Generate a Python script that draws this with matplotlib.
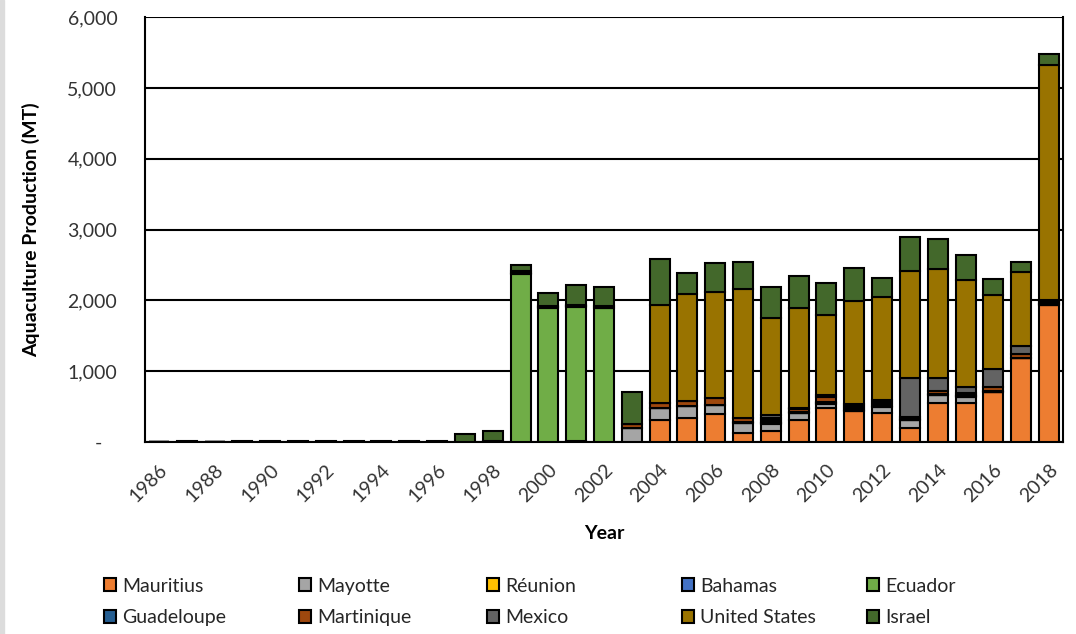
import numpy as np
import matplotlib
matplotlib.use('Agg')
import matplotlib.pyplot as plt
from matplotlib.ticker import FuncFormatter
from matplotlib.patches import Rectangle

plt.rcParams['font.family'] = ['Lato', 'DejaVu Sans']

years = list(range(1986, 2019))

# values, MT per year 1986..2018
mauritius = [0, 0, 0, 0, 0, 0, 0, 0, 0, 0, 0, 0, 0,
             0, 0, 15, 0, 0, 315, 344, 390, 130, 160, 305, 476, 442, 405,
             200, 545, 555, 710, 1180, 1935]
mayotte = [0, 0, 0, 0, 0, 0, 0, 0, 0, 0, 0, 0, 0,
           0, 0, 0, 0, 200, 165, 164, 130, 135, 100, 100, 55, 0, 93,
           110, 120, 85, 0, 0, 0]
reunion = [0, 0, 0, 0, 0, 0, 0, 0, 0, 0, 0, 0, 0,
           0, 0, 0, 0, 0, 0, 0, 0, 0, 10, 0, 25, 0, 0,
           0, 0, 0, 0, 0, 0]
bahamas = [0, 0, 0, 0, 0, 0, 0, 0, 0, 0, 0, 0, 0,
           0, 0, 0, 0, 0, 0, 0, 0, 0, 10, 0, 0, 10, 10,
           0, 0, 10, 0, 0, 10]
ecuador = [0, 0, 0, 0, 0, 0, 0, 0, 0, 0, 0, 0, 10,
           2370, 1890, 1885, 1890, 0, 0, 0, 0, 0, 0, 0, 0, 0, 0,
           0, 0, 0, 0, 0, 0]
guadeloupe = [0, 0, 0, 0, 0, 0, 0, 0, 0, 0, 0, 0, 0,
              20, 15, 15, 0, 0, 0, 0, 0, 15, 30, 15, 10, 25, 25,
              20, 15, 20, 15, 10, 20]
martinique = [0, 0, 0, 0, 0, 0, 0, 0, 0, 0, 0, 0, 0,
              20, 15, 15, 30, 50, 70, 71, 95, 55, 30, 40, 70, 30, 30,
              20, 40, 25, 50, 50, 20]
mexico = [0, 0, 0, 0, 0, 0, 0, 0, 0, 0, 0, 0, 0,
          0, 0, 0, 0, 0, 0, 0, 0, 0, 40, 15, 28, 25, 25,
          555, 180, 85, 258, 110, 20]
united_states = [0, 0, 0, 0, 0, 0, 0, 0, 0, 0, 0, 0, 0,
                 0, 0, 0, 0, 0, 1384, 1511, 1507, 1826, 1375, 1417, 1129, 1459, 1460,
                 1503, 1550, 1502, 1050, 1045, 3318]
israel = [0, 10, 0, 12, 12, 12, 12, 12, 12, 12, 12, 113, 140,
          90, 190, 290, 264, 460, 645, 301, 401, 377, 429, 457, 457, 471, 268,
          481, 410, 353, 212, 145, 155]

series = [
    ('Mauritius', mauritius, '#ED7D31'),
    ('Mayotte', mayotte, '#A5A5A5'),
    ('Réunion', reunion, '#FFC000'),
    ('Bahamas', bahamas, '#4472C4'),
    ('Ecuador', ecuador, '#70AD47'),
    ('Guadeloupe', guadeloupe, '#255E91'),
    ('Martinique', martinique, '#9E480E'),
    ('Mexico', mexico, '#636363'),
    ('United States', united_states, '#997300'),
    ('Israel', israel, '#43682B'),
]

fig = plt.figure(figsize=(10.76, 6.34), dpi=100)
fig.patches.append(Rectangle((0, 0), 0.004, 1, transform=fig.transFigure,
                             color='#dcdcdc', zorder=0))
ax = fig.add_axes([0.1348, 0.3028, 0.853, 0.6702])

x = np.arange(len(years))
bottom = np.zeros(len(years))
handles = {}
for name, vals, col in series:
    vals = np.array(vals, dtype=float)
    b = ax.bar(x, vals, bottom=bottom, width=0.72, color=col,
               edgecolor='black', linewidth=1.5, label=name, zorder=3)
    handles[name] = b
    bottom += vals

ax.set_xlim(-0.5, len(years) - 0.5)
ax.set_ylim(0, 6000)
ax.set_yticks(range(0, 6001, 1000))
ax.yaxis.set_major_formatter(FuncFormatter(lambda v, p: '-   ' if v == 0 else f'{int(v):,}'))
ax.grid(axis='y', color='black', linewidth=1.5, zorder=0)
ax.set_xticks(x[::2])
ax.set_xticklabels([str(y) for y in years[::2]], rotation=45, ha='right',
                   rotation_mode='anchor')
ax.tick_params(axis='both', length=0, labelsize=14, colors='#333333')
ax.tick_params(axis='y', pad=20)
ax.tick_params(axis='x', pad=14)

for s in ['left', 'bottom', 'right']:
    ax.spines[s].set_linewidth(1.5)
    ax.spines[s].set_color('black')
ax.spines['top'].set_visible(False)

ax.set_ylabel('Aquaculture Production (MT)', fontsize=14, fontweight='bold', labelpad=20)
ax.set_xlabel('Year', fontsize=14, fontweight='bold', labelpad=14)

# legend laid out in five columns of two rows, like the original
columns = [['Mauritius', 'Guadeloupe'], ['Mayotte', 'Martinique'],
           ['Réunion', 'Mexico'], ['Bahamas', 'United States'], ['Ecuador', 'Israel']]
col_x = [96, 291, 479, 674, 859]
for names, cx in zip(columns, col_x):
    leg = fig.legend([handles[n] for n in names], names, loc='lower left',
                     bbox_to_anchor=(cx / 1076, 0.0), frameon=False, fontsize=14,
                     handlelength=0.65, handleheight=0.65, handletextpad=0.3,
                     labelspacing=0.75, borderaxespad=0.3, borderpad=0.1)
    for t in leg.get_texts():
        t.set_color('#262626')

fig.savefig('out.png', dpi=100)
